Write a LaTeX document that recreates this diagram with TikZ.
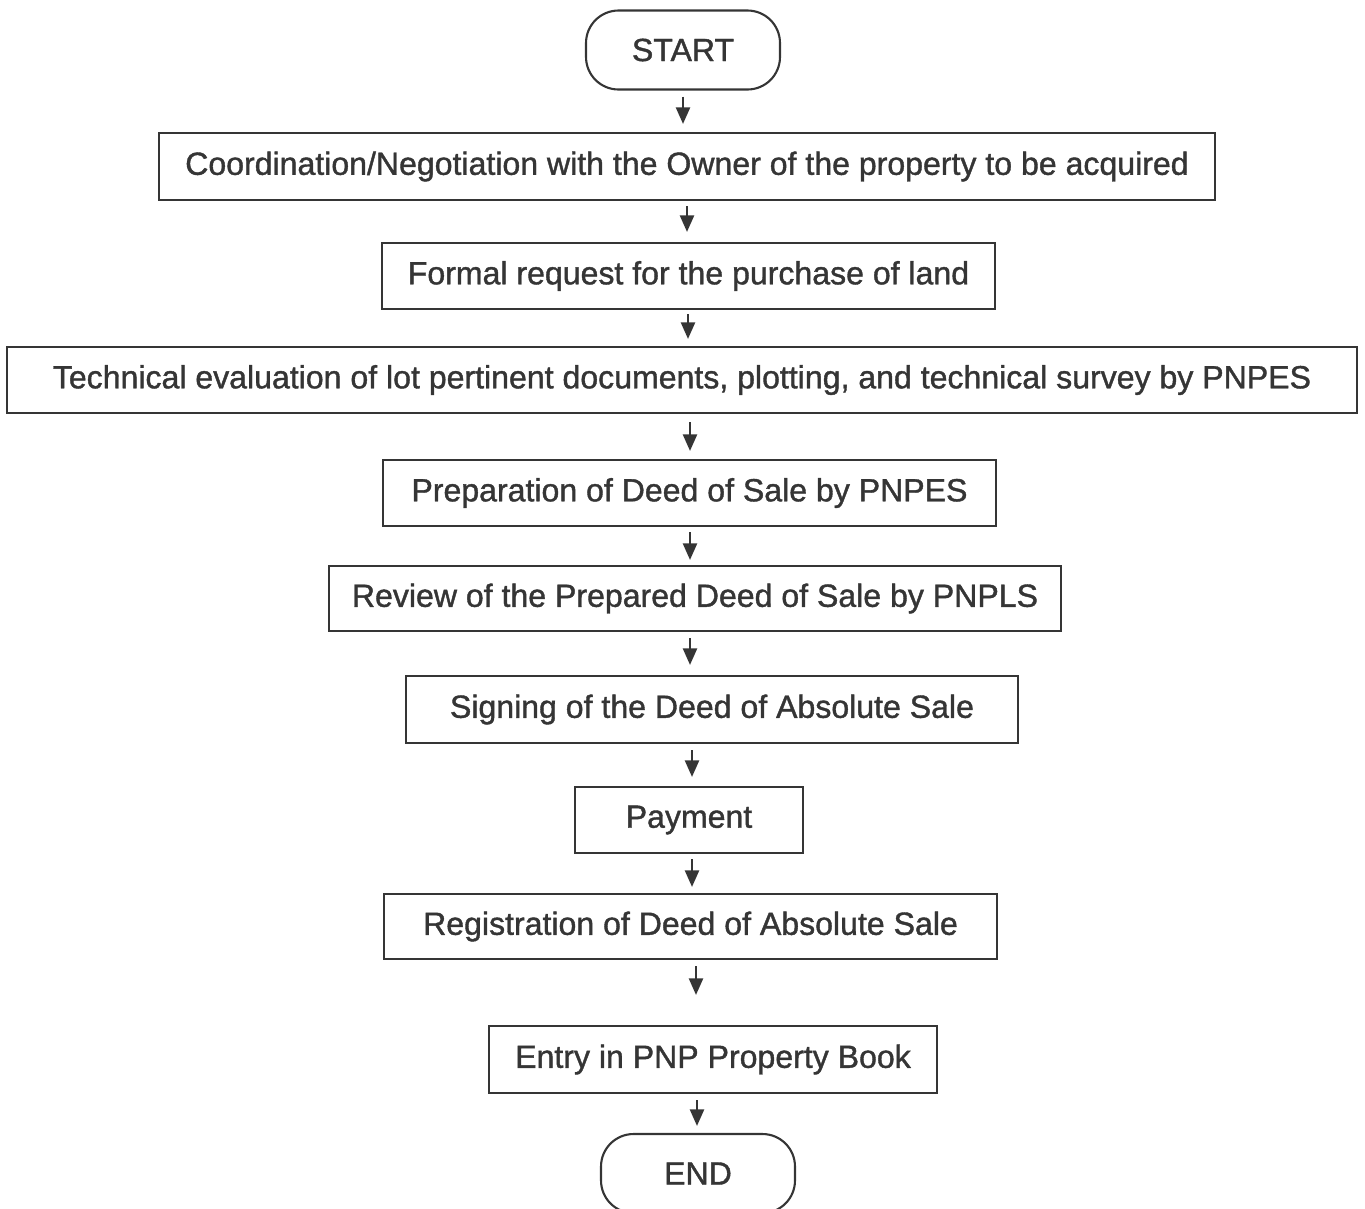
\documentclass[tikz,border=0pt]{standalone}
\usepackage{fontspec}
\setmainfont[FakeBold=1.2]{Liberation Sans}
\usetikzlibrary{arrows.meta}
\definecolor{ink}{HTML}{353535}
% vertical arrow between two steps at a given x, trimmed at both ends
\newcommand\flowarrow[5]{\draw[arr, shorten <=#4, shorten >=#5] (#1.south -| #3,0) -- (#2.north -| #3,0);}
\begin{document}
\begin{tikzpicture}[x=0.02cm,y=-0.02cm,
  every node/.style={font=\fontsize{18.25pt}{21pt}\selectfont, text=ink},
  stepbox/.style={draw=ink, line width=1.2pt, inner sep=0pt},
  terminal/.style={stepbox, rounded corners=0.65cm, minimum width=3.88cm, minimum height=1.58cm},
  arr/.style={draw=ink, line width=1.4pt, -{Triangle[length=9.5pt,width=8pt]}}]
\useasboundingbox (0,0) rectangle (1365,1208);
\clip (0,0) rectangle (1365,1208);

\node[terminal] (start) at (683,50) {START};
\node[stepbox, minimum width=21.12cm, minimum height=1.34cm] (coord) at (687,166.5)
  {Coordination/Negotiation with the Owner of the property to be acquired};
\node[stepbox, minimum width=12.26cm, minimum height=1.32cm] (request) at (688.5,276)
  {Formal request for the purchase of land};
\node[stepbox, minimum width=27.00cm, minimum height=1.32cm] (eval) at (682,380)
  {Technical evaluation of lot pertinent documents, plotting, and technical survey by PNPES};
\node[stepbox, minimum width=12.26cm, minimum height=1.32cm] (prep) at (689.5,493)
  {Preparation of Deed of Sale by PNPES};
\node[stepbox, minimum width=14.64cm, minimum height=1.30cm] (review) at (695,598.5)
  {Review of the Prepared Deed of Sale by PNPLS};
\node[stepbox, minimum width=12.24cm, minimum height=1.34cm] (sign) at (712,709.5)
  {Signing of the Deed of Absolute Sale};
\node[stepbox, minimum width=4.56cm, minimum height=1.32cm] (pay) at (689,820)
  {Payment};
\node[stepbox, minimum width=12.26cm, minimum height=1.30cm] (reg) at (690.5,926.5)
  {Registration of Deed of Absolute Sale};
\node[stepbox, minimum width=8.96cm, minimum height=1.34cm] (entry) at (713,1059.5)
  {Entry in PNP Property Book};
\node[terminal] (end) at (698,1173.5) {END};

\flowarrow{start}{coord}{683}{0.12cm}{0.16cm}
\flowarrow{coord}{request}{687}{0.10cm}{0.20cm}
\flowarrow{request}{eval}{688}{0.08cm}{0.14cm}
\flowarrow{eval}{prep}{690}{0.16cm}{0.16cm}
\flowarrow{prep}{review}{690}{0.10cm}{0.10cm}
\flowarrow{review}{sign}{690}{0.12cm}{0.20cm}
\flowarrow{sign}{pay}{692}{0.12cm}{0.18cm}
\flowarrow{pay}{reg}{692}{0.10cm}{0.12cm}
\flowarrow{reg}{entry}{696}{0.12cm}{0.60cm}
\flowarrow{entry}{end}{697}{0.12cm}{0.14cm}
\end{tikzpicture}
\end{document}
